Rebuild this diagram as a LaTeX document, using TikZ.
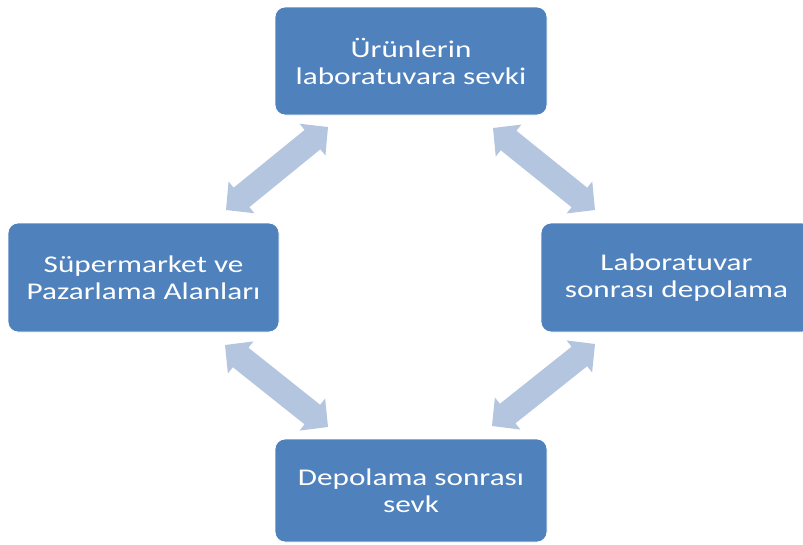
\documentclass[tikz,border=0pt]{standalone}
\usepackage{fontspec}
\setmainfont{Carlito}[FakeStretch=1.30]
\usetikzlibrary{calc}
\definecolor{boxblue}{HTML}{4F81BD}
\definecolor{arrowblue}{HTML}{B4C5E0}
\tikzset{
  stagebox/.style={rectangle, rounded corners=10pt, fill=boxblue, draw=white, line width=0.8pt,
    text=white, align=center, font=\fontsize{24}{27}\selectfont, inner sep=0pt},
  dblarrowfill/.style={fill=arrowblue}
}
\newcommand\dblarrowshape[2]{%
  \fill[dblarrowfill] (#1)
    -- ($(#1)!20pt!(#2)!20.5pt!90:(#2)$)
    -- ($(#1)!20pt!(#2)!12.5pt!90:(#2)$)
    -- ($(#2)!20pt!(#1)!12.5pt!-90:(#1)$)
    -- ($(#2)!20pt!(#1)!20.5pt!-90:(#1)$)
    -- (#2)
    -- ($(#2)!20pt!(#1)!20.5pt!90:(#1)$)
    -- ($(#2)!20pt!(#1)!12.5pt!90:(#1)$)
    -- ($(#1)!20pt!(#2)!12.5pt!-90:(#2)$)
    -- ($(#1)!20pt!(#2)!20.5pt!-90:(#2)$)
    -- cycle;}
\begin{document}
\begin{tikzpicture}[x=1pt,y=-1pt]
\useasboundingbox (0,0) rectangle (803,544);
\clip (0,0) rectangle (803,544);
\node[stagebox, minimum width=272pt, minimum height=108pt] (top) at (411,61) {Ürünlerin\\laboratuvara sevki};
\node[stagebox, minimum width=271pt, minimum height=109pt] (left) at (143.5,277.5) {Süpermarket ve\\Pazarlama Alanları};
\node[stagebox, minimum width=271pt, minimum height=109pt] (right) at (676.5,277.5) {Laboratuvar\\sonrası depolama};
\node[stagebox, minimum width=272pt, minimum height=103pt] (bottom) at (411,490.5) {Depolama sonrası\\sevk};
% arrow tips between the stages
\coordinate (tl1) at (328,127);
\coordinate (tl2) at (226,210);
\coordinate (tr1) at (493,128);
\coordinate (tr2) at (595,210);
\coordinate (bl1) at (225,345);
\coordinate (bl2) at (328,427);
\coordinate (br1) at (595,344);
\coordinate (br2) at (492,426);
\dblarrowshape{tl1}{tl2}
\dblarrowshape{tr1}{tr2}
\dblarrowshape{bl1}{bl2}
\dblarrowshape{br1}{br2}
\end{tikzpicture}
\end{document}
